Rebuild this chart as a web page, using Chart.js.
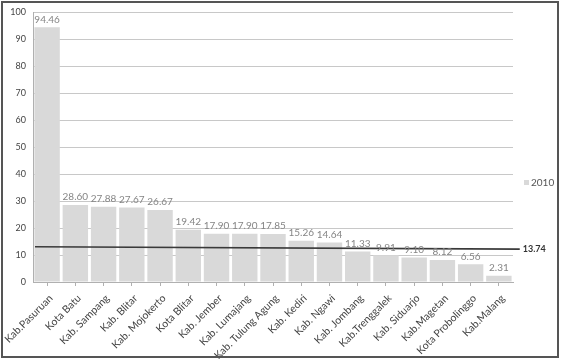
<!DOCTYPE html>
<html><head><meta charset="utf-8">
<script src="https://cdn.jsdelivr.net/npm/chart.js@4"></script>
<style>html,body{margin:0;padding:0;background:#fff}#wrap{width:561px;height:360px;position:relative}</style>
</head><body><div id="wrap"><canvas id="c" width="561" height="360"></canvas></div>
<script>
const categories = ["Kab.Pasuruan","Kota Batu","Kab. Sampang","Kab. Blitar","Kab. Mojokerto","Kota Blitar","Kab. Jember","Kab. Lumajang","Kab. Tulung Agung","Kab. Kediri","Kab. Ngawi","Kab. Jombang","Kab.Trenggalek","Kab. Siduarjo","Kab.Magetan","Kota Probolinggo","Kab.Malang"];
const values2010 = [94.46,28.60,27.88,27.67,26.67,19.42,17.90,17.90,17.85,15.26,14.64,11.33,9.91,9.10,8.12,6.56,2.31];
const refLineX = [-0.43, 16.74];
const refLineY = [13.1, 12.2];
const refLabel = "13.74";
const seriesName = "2010";
const yTicks = [0,10,20,30,40,50,60,70,80,90,100];

const FONT = "Lato, 'Open Sans', sans-serif";

const extras = {
  id: 'extras',
  afterDatasetsDraw(chart) {
    const ctx = chart.ctx;
    const meta = chart.getDatasetMeta(0);
    ctx.save();
    ctx.font = "10px " + FONT;
    ctx.fillStyle = "#858585";
    ctx.textAlign = "center";
    ctx.textBaseline = "bottom";
    meta.data.forEach((bar, i) => {
      ctx.fillText(values2010[i].toFixed(2), bar.x, bar.y - 3);
    });
    const lm = chart.getDatasetMeta(1);
    const last = lm.data[lm.data.length - 1];
    ctx.font = "bold 9px " + FONT;
    ctx.fillStyle = "#333";
    ctx.textAlign = "left";
    ctx.textBaseline = "middle";
    ctx.fillText(refLabel, last.x + 3, last.y);
    ctx.fillStyle = "#d9d9d9";
    ctx.fillRect(524, 180, 5, 5);
    ctx.font = "10px " + FONT;
    ctx.fillStyle = "#555";
    ctx.fillText(seriesName, 531, 183);
    ctx.strokeStyle = "#555";
    ctx.lineWidth = 2;
    ctx.strokeRect(2, 2, 556, 355);
    ctx.restore();
  }
};

new Chart(document.getElementById('c'), {
  data: {
    labels: categories,
    datasets: [
      { type: 'bar', label: seriesName, data: values2010, backgroundColor: '#d9d9d9',
        barPercentage: 0.9, categoryPercentage: 1.0, grouped: false, xAxisID: 'x', yAxisID: 'y', order: 2 },
      { type: 'line', label: 'ref', data: refLineX.map((x, i) => ({x: x, y: refLineY[i]})),
        borderColor: '#3a3a3a', borderWidth: 1.6, pointRadius: 0, xAxisID: 'xl', yAxisID: 'y',
        clip: false, order: 1, tension: 0 }
    ]
  },
  options: {
    responsive: false,
    animation: false,
    layout: { padding: { top: 7, right: 48, bottom: 0, left: 0 } },
    plugins: { legend: { display: false }, tooltip: { enabled: false } },
    scales: {
      x: {
        type: 'category',
        grid: { display: true, drawOnChartArea: false, offset: false, color: '#b0b0b0', tickLength: 4 },
        border: { color: '#b0b0b0' },
        ticks: { minRotation: 45, maxRotation: 45, autoSkip: false, color: '#444',
          font: { size: 10.5, family: FONT }, padding: 6, labelOffset: 4 },
        afterFit(s) { s.height = 78; s.paddingLeft = 0; s.paddingRight = 0; }
      },
      xl: { type: 'linear', display: false, min: -0.5, max: 16.5 },
      y: {
        min: 0, max: 100,
        afterBuildTicks(s) { s.ticks = yTicks.map(v => ({value: v})); },
        grid: { color: '#c8c8c8', tickLength: 0 },
        border: { color: '#b0b0b0' },
        ticks: { color: '#444', font: { size: 9, family: FONT }, padding: 7 },
        afterFit(s) { s.width = 33; }
      }
    }
  },
  plugins: [extras]
});
</script></body></html>
